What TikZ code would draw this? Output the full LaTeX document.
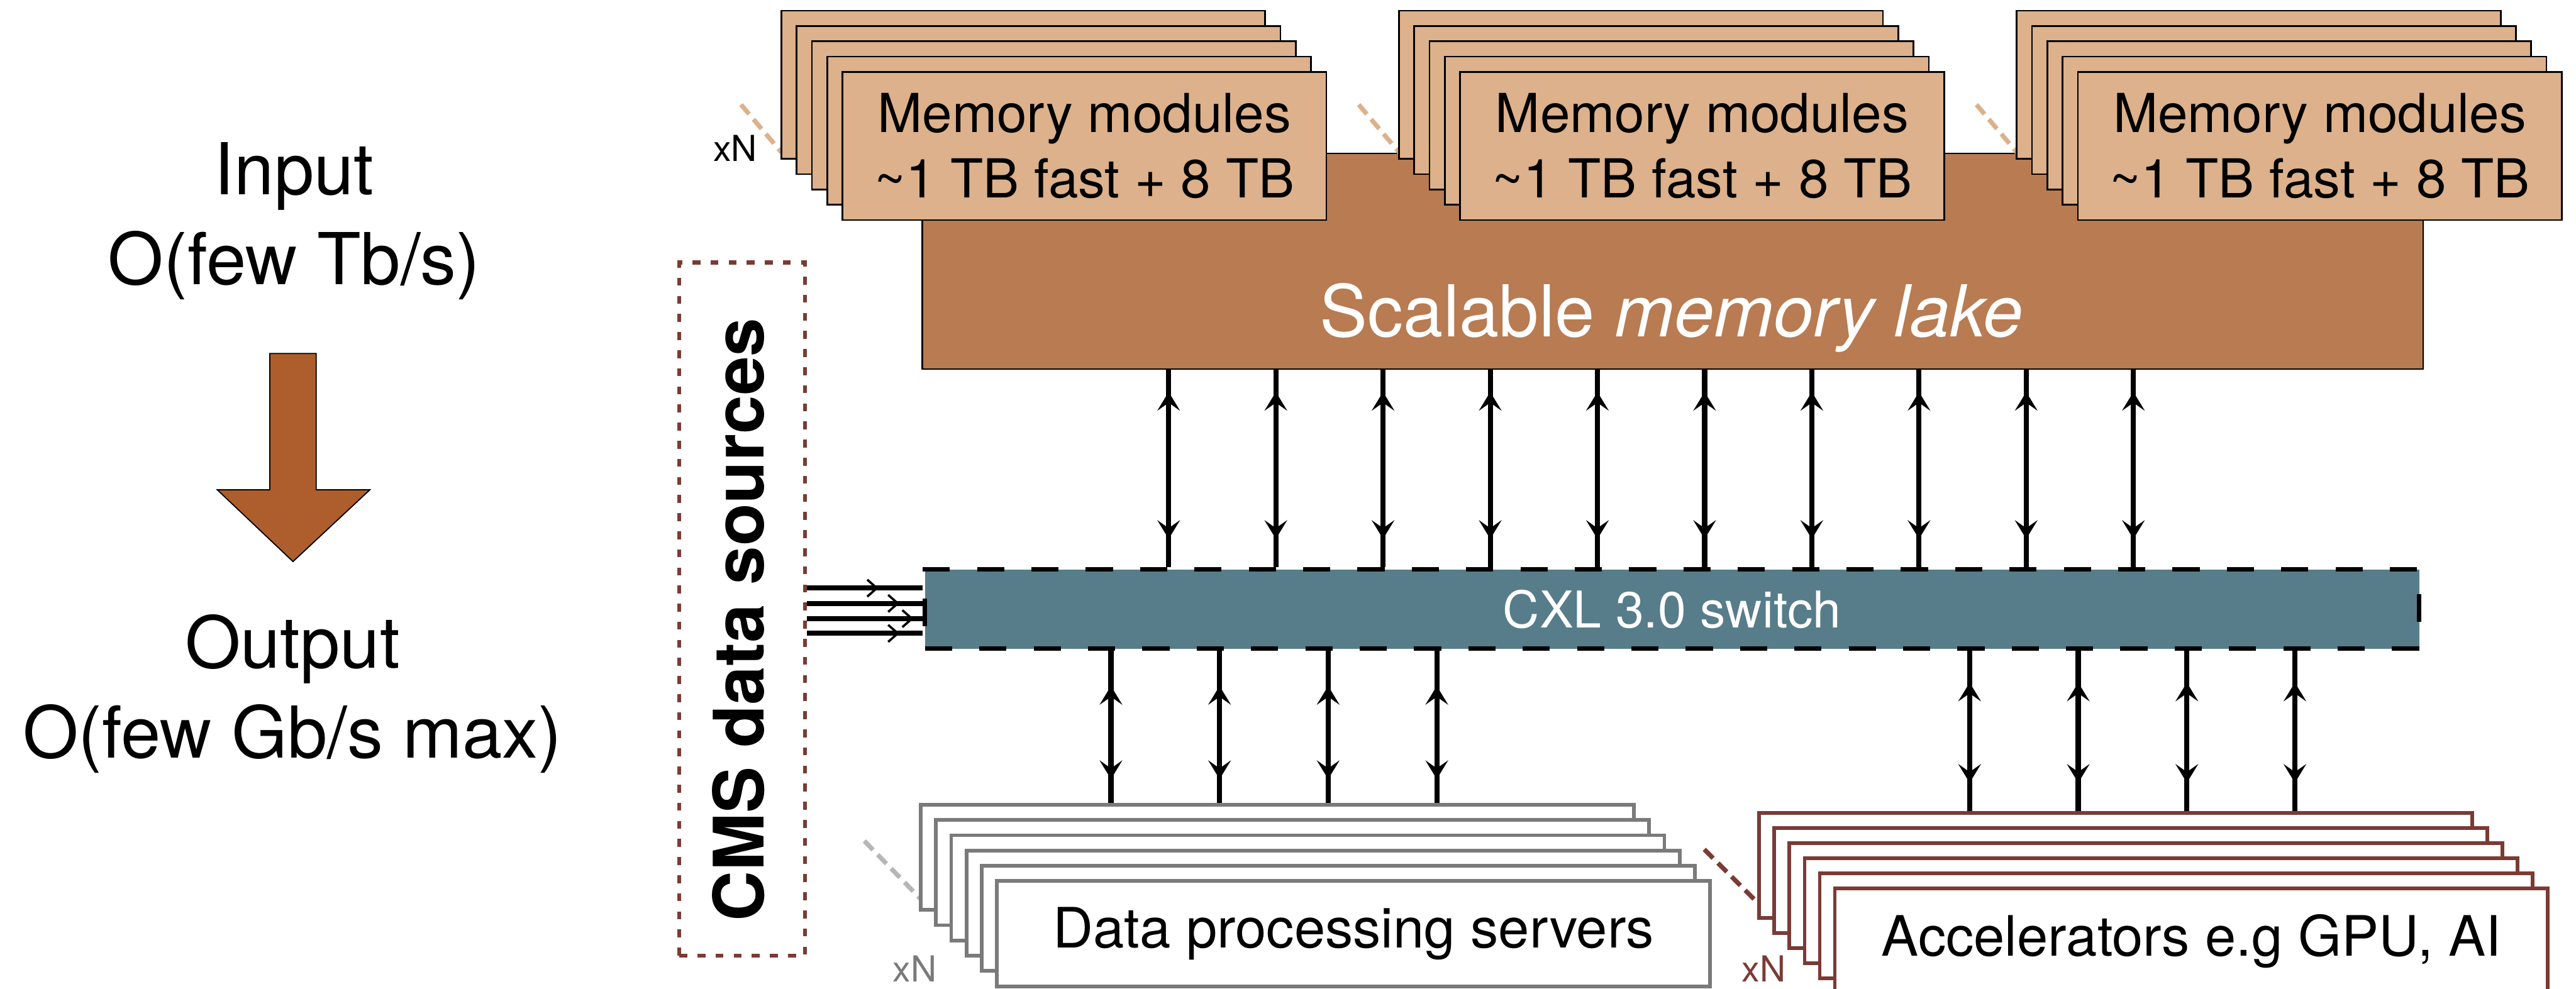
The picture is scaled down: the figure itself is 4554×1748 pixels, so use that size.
\documentclass[tikz,border=0pt]{standalone}
\usepackage{fontspec}
\setmainfont{TeX Gyre Heros}
\usetikzlibrary{arrows.meta,positioning,calc,decorations.markings}

\definecolor{memtan}{HTML}{DCB18B}
\definecolor{lakebrown}{HTML}{B87B52}
\definecolor{cxlteal}{HTML}{567D89}
\definecolor{flowbrown}{HTML}{AE5E2C}
\definecolor{srcred}{HTML}{7A3B34}
\definecolor{srvgrey}{HTML}{7A7A7A}

\begin{document}
\begin{tikzpicture}[x=0.01cm,y=-0.01cm,
 memcard/.style={draw=black,line width=0.03cm,fill=memtan,minimum width=8.55cm,minimum height=2.62cm,inner sep=0pt,align=center,font=\fontsize{27pt}{32.7pt}\selectfont},
 hostcard/.style={draw=#1,line width=0.065cm,fill=white,minimum width=12.6cm,minimum height=1.86cm,inner sep=0pt,font=\fontsize{28pt}{34pt}\selectfont},
 lake/.style={draw=black,line width=0.03cm,fill=lakebrown,minimum width=26.52cm,minimum height=3.81cm},
 switchbox/.style={draw=black,line width=0.08cm,dash pattern=on 0.48cm off 0.48cm,fill=cxlteal,minimum width=26.4cm,minimum height=1.4cm,text=white,font=\fontsize{25.5pt}{30pt}\selectfont},
 srcbox/.style={draw=srcred,line width=0.07cm,dash pattern=on 0.14cm off 0.18cm,minimum width=2.22cm,minimum height=12.25cm},
 rate/.style={align=center,inner sep=0pt,font=\fontsize{36pt}{45pt}\selectfont},
 copies/.style={inner sep=0pt,anchor=base,text=#1,font=\fontsize{18pt}{20pt}\selectfont},
 stackline/.style={draw=#1,line width=0.08cm,dash pattern=on 0.22cm off 0.12cm},
 link/.style 2 args={line width=0.09cm,postaction=decorate,decoration={markings,
   mark=at position #1 with {\arrowreversed{Stealth[open,length=0.33cm,width=0.4cm,inset=0.14cm,line width=0.06cm]}},
   mark=at position -#2 with {\arrow{Stealth[open,length=0.33cm,width=0.4cm,inset=0.14cm,line width=0.06cm]}}}},
 feed/.style={line width=0.09cm,postaction=decorate,decoration={markings,
   mark=at position -#1 with {\arrow{Straight Barb[length=0.17cm,width=0.3cm,line width=0.04cm]}}}}]
\useasboundingbox (0,0) rectangle (4554,1748);
\fill[white] (0,0) rectangle (4554,1748);

% input / output rates
\node[rate] (input) at (520,391) {Input\\O(few Tb/s)};
\node[rate] (output) at (517,1227) {Output\\O(few Gb/s max)};
\draw[fill=flowbrown,line width=0.02cm] (477,625) -- (559,625) -- (559,866) -- (654,866) -- (518,993) -- (384,866) -- (477,866) -- cycle;

% memory lake and module stacks
\node[lake] (lake) at (2957,462) {};
\node[text=white,anchor=base,font=\fontsize{36pt}{40pt}\selectfont] (laketitle) at (2955,595) {Scalable \textit{memory lake}};
\foreach \s/\cx in {1/1917,2/3009,3/4101}{
  \draw[stackline=memtan] (\cx-607,185) -- (\cx-535,270);
  \foreach \k in {4,...,1}
    \node[memcard] (mem\s-\k) at (\cx-27*\k,258-27*\k) {};
  \node[memcard] (mem\s) at (\cx,258) {Memory modules\\\textasciitilde1 TB fast + 8 TB};
}
\node[copies=black] (memcopies) at (1300,285) {xN};

% switch
\node[switchbox] (cxl) at (2956,1077) {CXL 3.0 switch};
\foreach \i in {0,...,9}
  \draw[link={0.39cm}{0.5cm}] ({2066+189.5*\i},0 |- lake.south) -- ({2066+189.5*\i},0 |- cxl.north);

% data sources
\node[srcbox] (cms) at (1312,1077) {};
\node[rotate=90,inner sep=0pt,font=\bfseries\fontsize{35pt}{40pt}\selectfont] (cmstitle) at (1305,1096) {CMS data sources};
\foreach \y/\d in {1040/0.78cm,1067/0.41cm,1094/0.16cm,1120/0.41cm}
  \draw[feed=\d] (cms.east |- 0,\y) -- (cxl.west |- 0,\y);

% processing servers
\draw[stackline=srvgrey!55] (1528,1487) -- (1628,1590);
\foreach \k in {5,...,1}
  \node[hostcard=srvgrey] (dps\k) at (2393-27*\k,1651-27*\k) {};
\node[hostcard=srvgrey] (dps) at (2393,1651) {Data processing servers};
\node[copies=srvgrey] (dpscopies) at (1617,1736) {xN};
\foreach \x in {1964,2156,2348,2540}
  \draw[link={0.62cm}{0.42cm}] (\x,0 |- cxl.south) -- (\x,0 |- dps5.north);

% accelerators
\draw[stackline=srcred] (3013,1502) -- (3111,1600);
\foreach \k in {5,...,1}
  \node[hostcard=srcred] (acc\k) at (3874-26.7*\k,1664-26.7*\k) {};
\node[hostcard=srcred] (acc) at (3874,1664) {Accelerators e.g GPU, AI};
\node[copies=srcred] (acccopies) at (3118,1736) {xN};
\foreach \x in {3482,3674,3866,4057}
  \draw[link={0.56cm}{0.5cm}] (\x,0 |- cxl.south) -- (\x,0 |- acc5.north);
\end{tikzpicture}
\end{document}
